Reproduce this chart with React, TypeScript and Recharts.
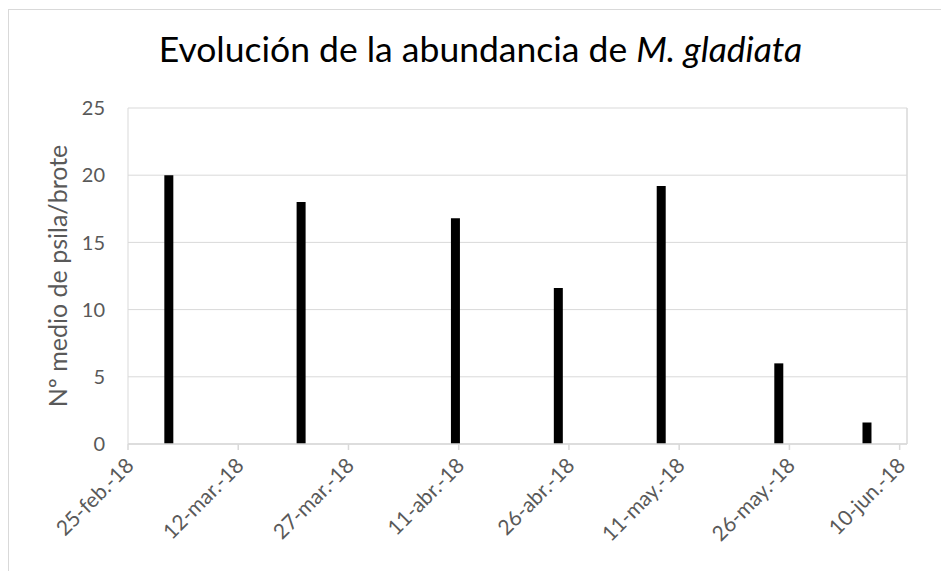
import { ComposedChart, Bar, XAxis, YAxis, CartesianGrid, ReferenceLine } from "recharts";

const fechas = ["2018-03-02", "2018-03-20", "2018-04-10", "2018-04-24", "2018-05-08", "2018-05-24", "2018-06-05"];
const psilas = [20, 18, 16.8, 11.6, 19.2, 6, 1.6];

const fechasTicks = ["2018-02-25", "2018-03-12", "2018-03-27", "2018-04-11", "2018-04-26", "2018-05-11", "2018-05-26", "2018-06-10"];
const etiquetasTicks = ["25-feb.-18", "12-mar.-18", "27-mar.-18", "11-abr.-18", "26-abr.-18", "11-may.-18", "26-may.-18", "10-jun.-18"];
const ticksY = [0, 5, 10, 15, 20, 25];
const fechaFin = "2018-06-11";

const DIA = 86400000;
const origen = Date.parse(fechasTicks[0]);
const aDia = (f: string) => (Date.parse(f) - origen) / DIA;

// Excel centra cada barra en su "casilla" de día
const datos = fechas.map((f, i) => ({ dia: aDia(f) + 0.5, valor: psilas[i] }));
const ticksX = fechasTicks.map(aDia);
const finDominio = aDia(fechaFin);

const gris = "#d9d9d9";
const texto = "#595959";
const fuente = "Lato, 'Open Sans', sans-serif";

function TickFecha({ x, y, payload }: any) {
  const idx = ticksX.indexOf(payload.value);
  const px = x + 7;
  const py = y + 15;
  return (
    <text
      x={px}
      y={py}
      transform={`rotate(-45, ${px}, ${py})`}
      textAnchor="end"
      fill={texto}
      fontSize={21}
      fontFamily={fuente}
    >
      {etiquetasTicks[idx]}
    </text>
  );
}

export default function App() {
  return (
    <div style={{ position: "absolute", left: 0, top: 0, width: 941, height: 571, overflow: "hidden", background: "#fff" }}>
      <div style={{ position: "absolute", left: 8, top: 9, width: 1000, height: 700, border: `1.5px solid ${gris}` }} />
      <div
        style={{
          position: "absolute",
          left: 0,
          top: 27,
          width: 961,
          textAlign: "center",
          fontFamily: fuente,
          fontSize: 35.5,
          lineHeight: "44px",
          color: "#000",
        }}
      >
        Evolución de la abundancia de <i>M. gladiata</i>
      </div>
      <div style={{ position: "absolute", left: 0, top: 0 }}>
        <ComposedChart width={941} height={571} data={datos} margin={{ top: 108, right: 34, bottom: 97, left: 0 }}>
          <CartesianGrid stroke={gris} vertical={false} />
          <XAxis
            dataKey="dia"
            type="number"
            domain={[0, finDominio]}
            ticks={ticksX}
            interval={0}
            allowDataOverflow
            stroke={gris}
            strokeWidth={1.5}
            tickSize={6}
            tick={<TickFecha />}
          />
          <YAxis
            domain={[0, 25]}
            ticks={ticksY}
            width={128}
            stroke={gris}
            tickLine={false}
            tickSize={0}
            tickMargin={23}
            tick={{ fill: texto, fontSize: 20, fontFamily: fuente }}
            label={{
              value: "Nº medio de psila/brote",
              angle: -90,
              position: "insideLeft",
              offset: 58,
              style: { textAnchor: "middle", fill: texto, fontSize: 25, fontFamily: fuente },
            }}
          />
          <ReferenceLine x={finDominio} stroke={gris} strokeWidth={1.5} />
          <Bar dataKey="valor" fill="#000" barSize={9} isAnimationActive={false} />
        </ComposedChart>
      </div>
    </div>
  );
}
